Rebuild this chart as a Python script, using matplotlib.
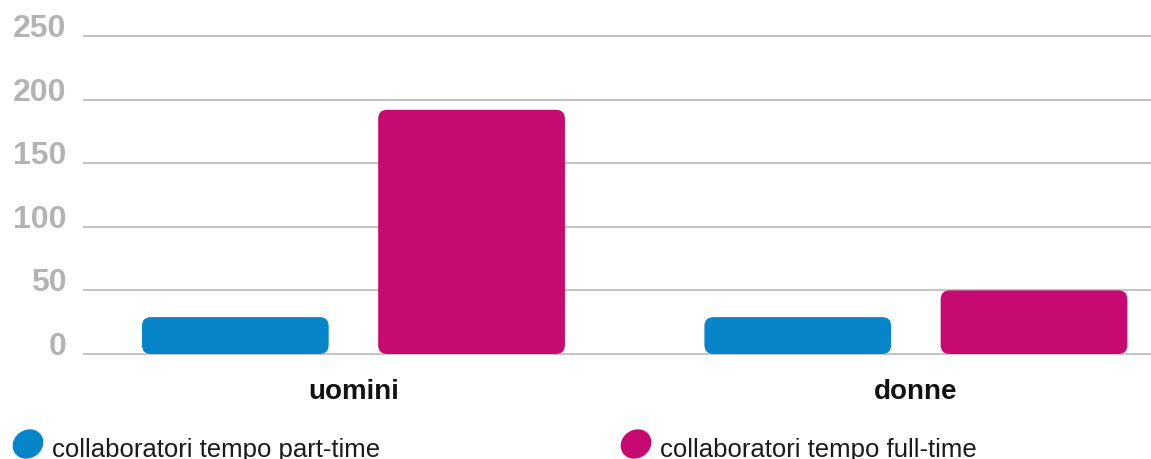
import matplotlib
matplotlib.use('Agg')
import matplotlib.pyplot as plt
import numpy as np
from matplotlib.patches import FancyBboxPatch, Ellipse

categories = ['uomini', 'donne']
part_time = [29, 29]
full_time = [192, 50]
series_labels = ['collaboratori tempo part-time', 'collaboratori tempo full-time']
yticks = [0, 50, 100, 150, 200, 250]

blue = '#0785c8'
magenta = '#c70a72'
grid_gray = '#c4c4c4'
tick_gray = '#b3b3b3'

plt.rcParams['font.family'] = ['Liberation Sans', 'DejaVu Sans']

W, H = 1151, 460
fig = plt.figure(figsize=(W / 100, H / 100), dpi=100)
ax = fig.add_axes([84 / W, (H - 355) / H, (W - 84) / W, 318 / H])

x = np.arange(len(categories))
width = 0.332
off = 0.21
bars1 = ax.bar(x - off, part_time, width, color=blue)
bars2 = ax.bar(x + off, full_time, width, color=magenta)

ax.set_xlim(-0.479, 1.418)
ax.set_ylim(0, 250)

# swap the plain rectangles for rounded ones
px_per_x = 562.5
px_per_y = 318 / 250
r = 9 / px_per_x
aspect = (9 / px_per_y) / r
for bars in (bars1, bars2):
    for b in bars:
        fb = FancyBboxPatch((b.get_x(), b.get_y()), b.get_width(), b.get_height(),
                            boxstyle=f'round,pad=0,rounding_size={r}',
                            mutation_aspect=aspect,
                            facecolor=b.get_facecolor(), edgecolor='none', zorder=3)
        b.remove()
        ax.add_patch(fb)

for s in ax.spines.values():
    s.set_visible(False)

ax.set_yticks(yticks)
ax.yaxis.grid(True, color=grid_gray, linewidth=1.5)
for gl in ax.get_ygridlines():
    gl.set_clip_on(False)
ax.set_axisbelow(True)
ax.tick_params(axis='y', length=0, pad=12.5, labelsize=23, labelcolor=tick_gray)
for lbl in ax.get_yticklabels():
    lbl.set_fontweight('bold')
    lbl.set_verticalalignment('baseline')

ax.set_xticks(x)
ax.set_xticklabels(categories, fontsize=20, fontweight='bold', color='#111111')
ax.tick_params(axis='x', length=0, pad=17)

# legend drawn by hand at the bottom
for (cx, tx), col, lab in zip([(28, 52), (636, 660)], [blue, magenta], series_labels):
    e = Ellipse((cx / 100, (H - 445) / 100), 0.32, 0.28, angle=35,
                transform=fig.dpi_scale_trans, facecolor=col, edgecolor='none')
    fig.add_artist(e)
    fig.text(tx / W, (H - 457) / H, lab, fontsize=18.5, color='#1a1a1a', va='baseline')

fig.savefig('out.png', dpi=100)
